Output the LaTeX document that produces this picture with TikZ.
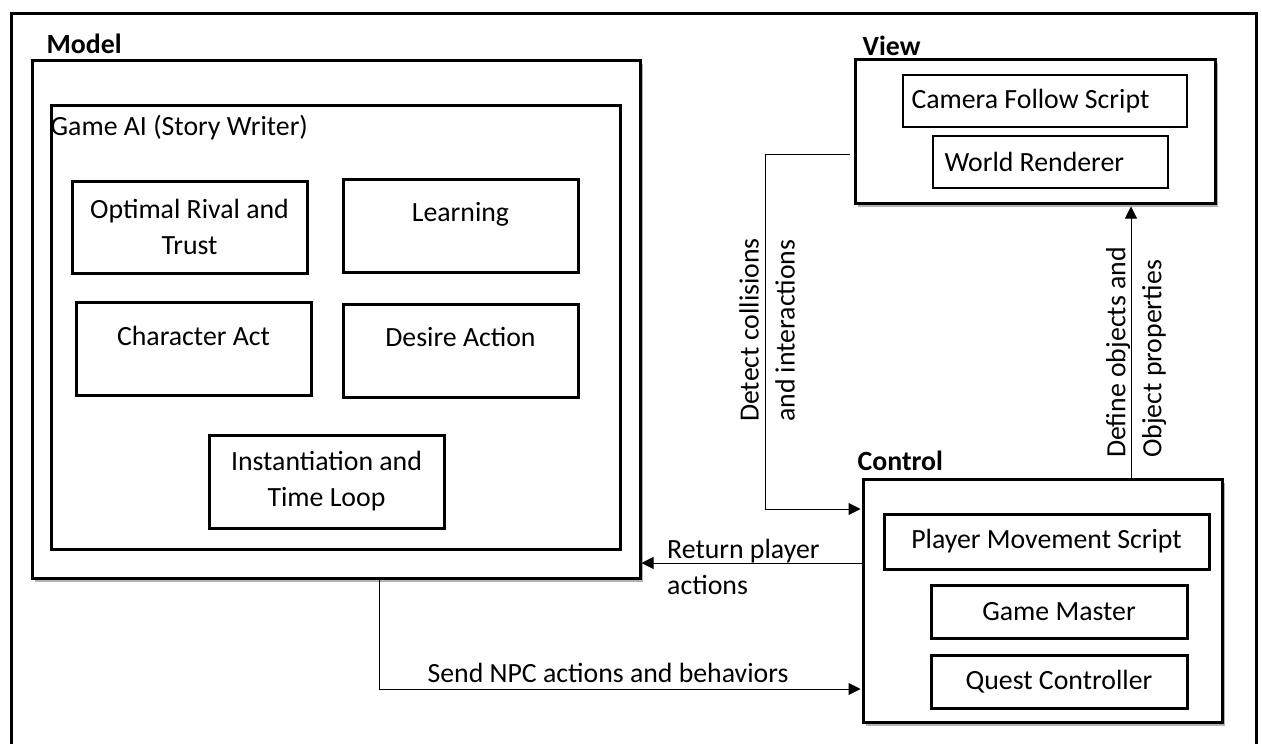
\documentclass[tikz,border=0pt]{standalone}
\usepackage{fontspec}
\setmainfont{Carlito}
\usetikzlibrary{shadows,arrows.meta,calc}
\begin{document}
\begin{tikzpicture}[x=1pt,y=-1pt,
  every node/.style={font=\fontsize{27.8}{36}\selectfont, inner sep=0pt},
  bigbox/.style={draw, line width=3pt, fill=white,
    drop shadow={shadow xshift=3pt, shadow yshift=-4pt, opacity=0.3, fill=black}},
  midbox/.style={draw, line width=3pt, fill=white},
  inbox/.style={draw, line width=3pt, fill=white, align=center},
  thinbox/.style={draw, line width=1.3pt, fill=white},
  title/.style={anchor=base west, font=\fontsize{27.8}{32}\selectfont\bfseries},
  conn/.style={line width=1pt},
  arr/.style={conn, -{Triangle[length=12pt, width=12pt]}},
  lbl/.style={align=left}
]
\useasboundingbox (0,0) rectangle (1262,744);
\node[draw, line width=3pt, minimum width=1245, minimum height=760, anchor=north west] (frame) at (10,12) {};

% Model
\node[bigbox, minimum width=608, minimum height=518] (model) at (336,319) {};
\node[title] at ($(model.north west)+(16,-5)$) {Model};
\node[midbox, minimum width=569, minimum height=444] (gameai) at (335.5,327) {};
\node[anchor=base west] at ($(gameai.north west)+(1,32)$) {Game AI (Story Writer)};

\node[inbox, minimum width=235, minimum height=92] (rival) at (189.5,227) {Optimal Rival and\\Trust};
\node[inbox, minimum width=235, minimum height=93,
  label={[anchor=base, yshift=-43.5pt]north:Learning}] (learn) at (460.5,225.5) {};
\node[inbox, minimum width=235, minimum height=93,
  label={[anchor=base, yshift=-44.5pt]north:Character Act}] (charact) at (193.5,348.5) {};
\node[inbox, minimum width=235, minimum height=93,
  label={[anchor=base, yshift=-43.5pt]north:Desire Action}] (desire) at (460.5,350.5) {};
\node[inbox, minimum width=235, minimum height=93] (inst) at (326.5,481.5) {Instantiation and\\Time Loop};

% View
\node[bigbox, minimum width=360, minimum height=144] (view) at (1035,131) {};
\node[title] at ($(view.north west)+(9,-2)$) {View};
\node[thinbox, minimum width=284, minimum height=52,
  label={[anchor=west, xshift=9pt]west:Camera Follow Script}] (camera) at (1045,101) {};
\node[thinbox, minimum width=235, minimum height=52,
  label={[anchor=west, xshift=12pt]west:World Renderer}] (world) at (1050.5,162) {};

% Control
\node[bigbox, minimum width=359, minimum height=243] (ctrl) at (1042.5,600.5) {};
\node[title] at ($(ctrl.north west)+(-4,-7)$) {Control};
\node[inbox, minimum width=325, minimum height=55] (player) at (1046.5,541.5) {Player Movement Script};
\node[inbox, minimum width=256, minimum height=53] (gm) at (1059,611.5) {Game Master};
\node[inbox, minimum width=256, minimum height=53] (quest) at (1059,681.5) {Quest Controller};

% Connectors
\draw[arr] ($(view.west)+(-4,23)$) -- ++(-84,0) |- ($(ctrl.west)+(-1,-91.5)$);
\node[lbl, rotate=90, anchor=west] at (767,422) {Detect collisions\\and interactions};

\draw[arr] ($(ctrl.west)+(0,-37.5)$) -- ($(model.east)+(0,244)$);
\node[lbl, anchor=west] at (667,566.5) {Return player\\actions};

\draw[arr] ($(model.south)+(43,0)$) |- ($(ctrl.west)+(-1,88.5)$);
\node[anchor=base] at (608,682) {Send NPC actions and behaviors};

\draw[arr] ($(ctrl.north)+(88.5,0)$) -- ($(view.south)+(96,2)$);
\node[lbl, rotate=90, anchor=west] at (1136,458) {Define objects and\\Object properties};
\end{tikzpicture}
\end{document}
